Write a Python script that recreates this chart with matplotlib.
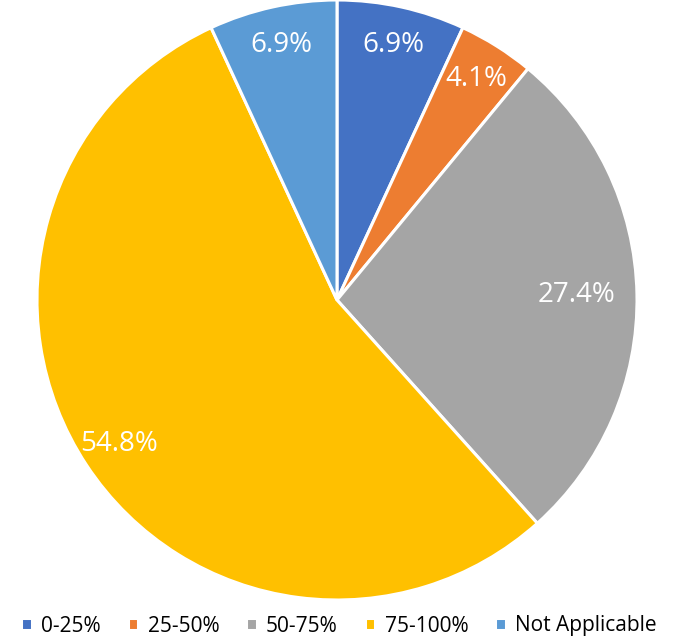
import matplotlib.pyplot as plt

# categories and shares (%)
labels = ["0-25%", "25-50%", "50-75%", "75-100%", "Not Applicable"]
values = [6.9, 4.1, 27.4, 54.8, 6.9]
colors = ["#4472C4", "#ED7D31", "#A5A5A5", "#FFC000", "#5B9BD5"]

plt.rcParams['font.family'] = ['Open Sans', 'DejaVu Sans']

fig = plt.figure(figsize=(6.85, 6.4), dpi=100)
ax = fig.add_axes([37/685, 40/640, 600/685, 600/640])

wedges, texts, autotexts = ax.pie(
    values, colors=colors, startangle=90, counterclock=False,
    autopct="%.1f%%", pctdistance=0.87,
    wedgeprops=dict(edgecolor="white", linewidth=2.2),
    textprops=dict(color="white", fontsize=20))

# show the values as given (pie rescales them to 100)
for t, v in zip(autotexts, values):
    t.set_text(f"{v:.1f}%")

# the big grey label sits a bit further in
x, y = autotexts[2].get_position()
autotexts[2].set_position((x * 0.8 / 0.87, y * 0.8 / 0.87))

ax.set_aspect("equal")
ax.set_xlim(-1, 1)
ax.set_ylim(-1, 1)

fig.legend(wedges, labels, loc="center", bbox_to_anchor=(0.495, 14/640), ncol=5,
           frameon=False, fontsize=15, handlelength=0.5, handleheight=0.5,
           handletextpad=0.45, columnspacing=1.3, borderaxespad=0, borderpad=0)

fig.savefig("out.png", dpi=100)
